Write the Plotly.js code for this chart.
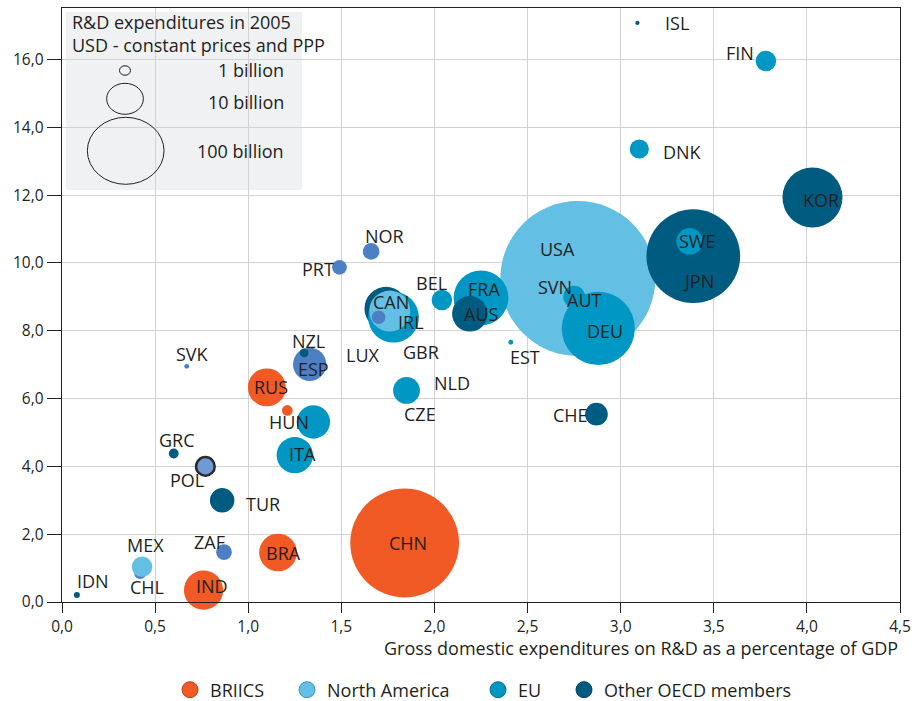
<!DOCTYPE html>
<html>
<head>
<meta charset="utf-8">
<script src="https://cdn.plot.ly/plotly-3.0.1.min.js"></script>
<style>html,body{margin:0;padding:0;background:#fff;}#chart{width:920px;height:701px;}</style>
</head>
<body>
<div id="chart"></div>
<script>
// ---- data (draw order) ----
const countries = ["CHN","USA","JPN","DEU","KOR","FRA","IRL","GBR","CAN","ITA","IND","RUS","BRA","AUS","ESP","CZE","NLD","SWE","TUR","CHE","SVN","AUT","BEL","FIN","CHL","MEX","DNK","POL","NOR","ZAF","PRT","LUX","HUN","GRC","NZL","IDN","SVK","EST","ISL"];
const gerdPctGDP = [1.84,2.77,3.39,2.88,4.03,2.25,1.74,1.78,1.76,1.25,0.76,1.10,1.16,2.19,1.33,1.35,1.85,3.37,0.86,2.87,2.73,2.75,2.04,3.78,0.42,0.43,3.10,0.77,1.66,0.87,1.49,1.70,1.21,0.60,1.30,0.08,0.67,2.41,3.09];
const researchersPer1000 = [1.74,9.54,10.20,8.07,11.93,8.97,8.66,8.40,8.58,4.33,0.35,6.33,1.46,8.50,7.01,5.31,6.24,10.64,3.00,5.54,9.01,9.01,8.91,15.96,0.85,1.04,13.36,4.00,10.34,1.47,9.87,8.40,5.65,4.38,7.35,0.21,6.95,7.66,17.08];
const rdBillionUSD = [197,400,146,89,60,50,31,43,28,22,25.6,24,23.7,21,18.5,18.5,12,11.7,10,8.5,0.6,7.8,7,7,2.3,7,6.1,5.8,4.6,4.1,3.6,3.1,1.9,1.6,1.3,0.6,0.4,0.4,0.3];
const group = ["BRIICS","North America","Other OECD members","EU","Other OECD members","EU","Other OECD members","EU","North America","EU","BRIICS","BRIICS","BRIICS","Other OECD members","Other","EU","EU","EU","Other OECD members","Other OECD members","EU","EU","EU","EU","Other","North America","EU","Other","Other","Other","Other","Other","BRIICS","Other OECD members","Other OECD members","Other OECD members","Other","EU","Other OECD members"];
const legendGroups = ["BRIICS","North America","EU","Other OECD members"];
const xTickVals = [0,0.5,1,1.5,2,2.5,3,3.5,4,4.5];
const yTickVals = [0,2,4,6,8,10,12,14,16];
const sizeKeyValues = ["1 billion","10 billion","100 billion"];

// ---- styles ----
const colors = {"BRIICS":"#f15a24","North America":"#63bfe4","EU":"#0097c4","Other OECD members":"#005b80","Other":"#4d7fc4"};
const legendEdge = {"BRIICS":"#b5401a","North America":"#3d8fb3","EU":"#006f91","Other OECD members":"#003d57"};
const legendX = [170, 287, 478, 564];   // pixel left edge of each legend block
const txt = "#231f20";
const FONT = "Open Sans, Noto Sans, sans-serif";
const M = {l:62, r:20, t:8, b:99, autoexpand: false};
const W = 920, H = 701;
const pw = W - M.l - M.r, ph = H - M.t - M.b;
const px = p => (p - M.l) / pw;          // pixel -> paper x
const py = p => (H - M.b - p) / ph;      // pixel -> paper y

// label offsets (pixels, dy downward)
const labelOffset = {ISL:[40,0],FIN:[-26,-8],DNK:[43,3],KOR:[9,2],JPN:[5,25],SWE:[8,0],USA:[-20,-30],SVN:[-15,-10],AUT:[10,3],DEU:[7,3],EST:[14,15],FRA:[3,-9],AUS:[12,0],BEL:[-10,-17],NOR:[13,-15],PRT:[-21,2],CAN:[1,-9],IRL:[25,14],GBR:[28,35],LUX:[-16,38],NLD:[45,-7],CZE:[107,-8],NZL:[4,-12],ESP:[4,5],RUS:[4,0],HUN:[2,12],ITA:[8,-1],SVK:[6,-12],GRC:[3,-14],POL:[-18,14],TUR:[41,4],ZAF:[-15,-10],BRA:[5,0],MEX:[3,-22],CHL:[7,14],IND:[8,-4],IDN:[16,-14],CHN:[3,0],CHE:[-26,1]};

const markerColors = countries.map((c,i) => c === "POL" ? "#6e9bd6" : colors[group[i]]);
const lineWidths = countries.map(c => c === "POL" ? 2.5 : 0);
const lineColors = countries.map(c => c === "POL" ? "#2b2b2b" : "rgba(0,0,0,0)");

const traces = [{
  type: "scatter", mode: "markers",
  x: gerdPctGDP, y: researchersPer1000, text: countries,
  marker: {size: rdBillionUSD, sizemode: "area", sizeref: 0.0333, color: markerColors, opacity: 1,
           line: {width: lineWidths, color: lineColors}},
  cliponaxis: false, showlegend: false, hoverinfo: "text"
}];
const legendIds = ["legend","legend2","legend3","legend4"];
legendGroups.forEach((g,k) => traces.push({
  type: "scatter", mode: "markers", x: [null], y: [null], name: g, legend: legendIds[k],
  marker: {size: 18, color: colors[g], line: {width: 1, color: legendEdge[g]}}, showlegend: true
}));

const annotations = countries.map((c,i) => ({
  x: gerdPctGDP[i], y: researchersPer1000[i], xref: "x", yref: "y", text: c, showarrow: false,
  xshift: labelOffset[c][0], yshift: -labelOffset[c][1],
  font: {family: FONT, size: 18, color: txt}
}));
annotations.push({xref: "paper", yref: "paper", x: 1, y: py(648), xanchor: "right", yanchor: "middle",
  text: "Gross domestic expenditures on R&D as a percentage of GDP", showarrow: false,
  font: {family: FONT, size: 18, color: txt}});
annotations.push({xref: "paper", yref: "paper", x: px(70), y: py(22), xanchor: "left", yanchor: "middle",
  text: "R&D expenditures in 2005", showarrow: false, font: {family: FONT, size: 18, color: txt}});
annotations.push({xref: "paper", yref: "paper", x: px(70), y: py(45), xanchor: "left", yanchor: "middle",
  text: "USD - constant prices and PPP", showarrow: false, font: {family: FONT, size: 18, color: txt}});
const keyY = [70, 102, 151];
sizeKeyValues.forEach((s,k) => annotations.push({xref: "paper", yref: "paper", x: px(286), y: py(keyY[k]),
  xanchor: "right", yanchor: "middle", text: s, showarrow: false, font: {family: FONT, size: 18, color: txt}}));

const keyCircles = [[125,70.5,11,9.5],[125,98.8,36.7,31],[125.7,150.8,76.7,67]];
const shapes = [{type: "rect", xref: "paper", yref: "paper", x0: px(66), x1: px(302), y0: py(190), y1: py(12),
  fillcolor: "#f0f1f3", line: {width: 0}, layer: "between"}];
keyCircles.forEach(c => shapes.push({type: "circle", xref: "paper", yref: "paper",
  x0: px(c[0]-c[2]/2), x1: px(c[0]+c[2]/2), y0: py(c[1]+c[3]/2), y1: py(c[1]-c[3]/2),
  line: {color: "#231f20", width: 1}, fillcolor: "rgba(0,0,0,0)", layer: "above"}));

const axisCommon = {showline: true, linecolor: "#231f20", linewidth: 1.3, mirror: true,
  showgrid: true, gridcolor: "#d2d2d2", gridwidth: 1, zeroline: false, ticks: "outside",
  tickcolor: "#231f20", tickwidth: 1, tickfont: {family: FONT, size: 15.5, color: txt}, tickformat: ".1f"};

const layout = {
  width: W, height: H, margin: M, paper_bgcolor: "#fff", plot_bgcolor: "#fff",
  separators: ", ",
  font: {family: FONT, color: txt},
  xaxis: Object.assign({}, axisCommon, {range: [0, 4.5], tickvals: xTickVals, ticklen: 10, automargin: false}),
  yaxis: Object.assign({}, axisCommon, {range: [0, 17.52], tickvals: yTickVals, ticklen: 14, automargin: false}),
  showlegend: true,
  annotations: annotations, shapes: shapes
};
legendIds.forEach((id,k) => {
  layout[id] = {orientation: "h", x: px(legendX[k]), xanchor: "left", y: py(690), yanchor: "middle",
    font: {family: FONT, size: 18, color: txt}, bgcolor: "rgba(0,0,0,0)", itemclick: false, itemwidth: 30};
});
Plotly.newPlot("chart", traces, layout, {displayModeBar: false, staticPlot: true});
</script>
</body>
</html>
